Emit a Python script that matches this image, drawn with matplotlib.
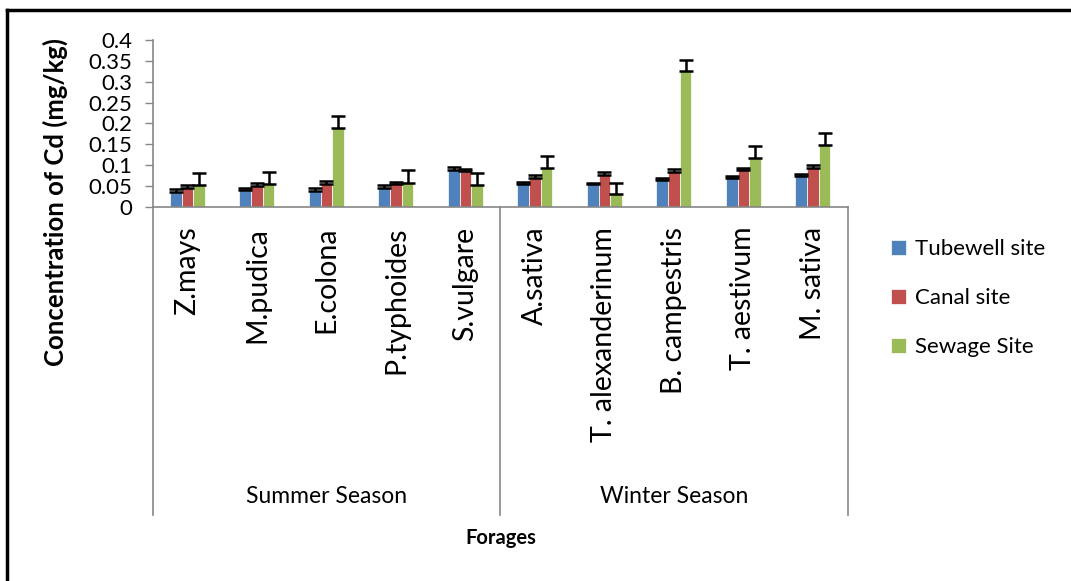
import matplotlib
matplotlib.use("Agg")
import matplotlib.pyplot as plt
from matplotlib.lines import Line2D
import numpy as np

plt.rcParams['font.family'] = ['Lato', 'DejaVu Sans']

forages = ["Z.mays", "M.pudica", "E.colona", "P.typhoides", "S.vulgare",
           "A.sativa", "T. alexanderinum", "B. campestris", "T. aestivum", "M. sativa"]
seasons = ["Summer Season", "Winter Season"]
series = ["Tubewell site", "Canal site", "Sewage Site"]
tubewell = [0.036, 0.040, 0.038, 0.046, 0.089, 0.055, 0.054, 0.063, 0.068, 0.074]
canal = [0.046, 0.050, 0.054, 0.054, 0.086, 0.070, 0.077, 0.083, 0.087, 0.093]
sewage = [0.052, 0.054, 0.188, 0.058, 0.052, 0.092, 0.030, 0.325, 0.118, 0.147]
tubewell_err = [0.006, 0.006, 0.007, 0.006, 0.007, 0.005, 0.004, 0.005, 0.006, 0.005]
canal_err = [0.005, 0.008, 0.008, 0.005, 0.005, 0.005, 0.006, 0.007, 0.007, 0.006]
sewage_err = [0.028, 0.029, 0.029, 0.029, 0.028, 0.030, 0.028, 0.028, 0.028, 0.030]
colors = ["#4F81BD", "#C0504D", "#9BBB59"]

fig = plt.figure(figsize=(10.71, 5.81), dpi=100)
ax = fig.add_axes([0.1426, 0.6442, 0.6489, 0.2869])

x = np.arange(len(forages))
w = 0.168
for k, (vals, errs) in enumerate([(tubewell, tubewell_err), (canal, canal_err), (sewage, sewage_err)]):
    pos = x + (k - 1) * w
    ax.bar(pos, vals, width=w, color=colors[k], edgecolor='white', linewidth=0.5,
           label=series[k], zorder=2)
    ax.errorbar(pos, vals, yerr=[np.zeros(len(vals)), errs], fmt='none',
                ecolor='black', elinewidth=1.8, capsize=5, capthick=1.8, zorder=3)

ax.set_xlim(-0.5, len(forages) - 0.5)
ax.set_ylim(0, 0.4)
yt = [0, 0.05, 0.1, 0.15, 0.2, 0.25, 0.3, 0.35, 0.4]
ax.set_yticks(yt)
ax.set_yticklabels(["0", "0.05", "0.1", "0.15", "0.2", "0.25", "0.3", "0.35", "0.4"], fontsize=16)
ax.tick_params(axis='y', length=6, color='#868686', width=1, pad=9)
ax.set_xticks([])
for s in ['top', 'right']:
    ax.spines[s].set_visible(False)
for s in ['left', 'bottom']:
    ax.spines[s].set_color('#868686')
    ax.spines[s].set_linewidth(1.2)

trans = ax.get_xaxis_transform()
depth = -1.85
for xb in [-0.5, 4.5, 9.5]:
    ax.plot([xb, xb], [0, depth], transform=trans, color='#868686', lw=1.2, clip_on=False)

for i, name in enumerate(forages):
    ax.text(i, -0.12, name, transform=trans, rotation=90, ha='center', va='top', fontsize=20.5)

ax.text(2, -1.74, seasons[0], transform=trans, ha='center', va='center', fontsize=16.5)
ax.text(7, -1.74, seasons[1], transform=trans, ha='center', va='center', fontsize=16.5)

ax.set_ylabel("Concentration of Cd (mg/kg)", fontsize=18.5, fontweight='bold')
ax.yaxis.set_label_coords(-0.14, 0.03)
ax.yaxis.label.set_va('center')

fig.text(0.4675, 1 - 538 / 581, "Forages", ha='center', va='center', fontsize=14.5, fontweight='bold')

leg = ax.legend(loc='center left', bbox_to_anchor=(1.04, -0.548), frameon=False, fontsize=16,
                handlelength=0.68, handleheight=0.68, handletextpad=0.4, labelspacing=1.3,
                borderpad=0.2)

fig.add_artist(Line2D([7 / 1071, 1], [1 - 10 / 581, 1 - 10 / 581], color='black', lw=2.5))
fig.add_artist(Line2D([7 / 1071, 7 / 1071], [0, 1 - 10 / 581], color='black', lw=2.5))

fig.savefig("out.png", dpi=100, facecolor='white')
